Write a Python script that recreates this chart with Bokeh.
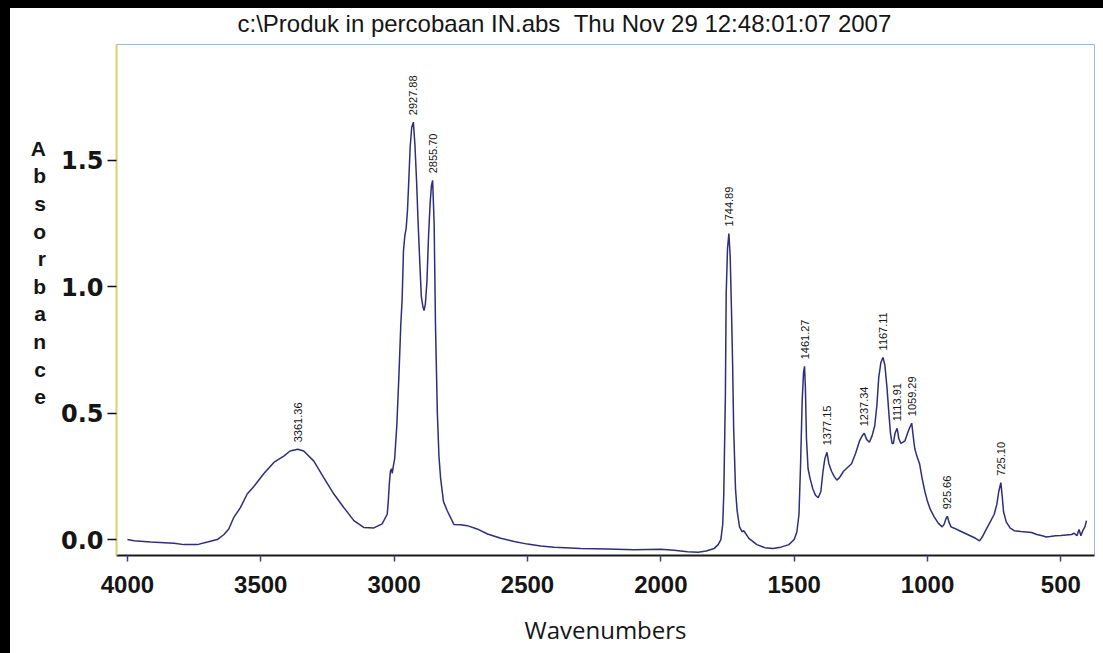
import numpy as np
from bokeh.plotting import figure
from bokeh.models import Range1d, FixedTicker, PrintfTickFormatter, ColumnDataSource
from bokeh.core.properties import value
from bokeh.embed import file_html
from bokeh.resources import INLINE

# ---------------- data ----------------
wavenumber = [
    4000, 3975, 3913, 3825, 3788, 3738, 3700, 3663, 3638, 3620, 3601, 3576, 3551, 3526,
    3489, 3451, 3414, 3390, 3361.36, 3339, 3301, 3264, 3226, 3189, 3151, 3114, 3076,
    3045, 3026, 3022, 3018, 3014, 3010, 3007, 3003, 2998, 2990, 2982, 2975, 2970, 2965,
    2960, 2955, 2950, 2945, 2940, 2934, 2927.88, 2922, 2916, 2910, 2904, 2898, 2892,
    2888, 2883, 2877, 2871, 2865, 2860, 2855.70, 2850, 2845, 2838, 2832, 2826, 2815,
    2801, 2776, 2751, 2726, 2689, 2650, 2600, 2550, 2500, 2450, 2400, 2300, 2200, 2100,
    2000, 1950, 1900, 1860, 1830, 1800, 1785, 1775, 1768, 1764, 1758, 1755, 1750,
    1744.89, 1740, 1735, 1731, 1727, 1720, 1714, 1705, 1695, 1689, 1670, 1640, 1610,
    1580, 1550, 1520, 1500, 1490, 1482, 1476, 1470, 1465, 1461.27, 1458, 1454, 1448,
    1440, 1430, 1420, 1410, 1400, 1392, 1385, 1377.15, 1370, 1360, 1350, 1340, 1330,
    1315, 1300, 1285, 1270, 1255, 1245, 1237.34, 1228, 1218, 1208, 1198, 1190, 1183,
    1175, 1167.11, 1160, 1152, 1145, 1139, 1133, 1128, 1122, 1113.91, 1108, 1100, 1092,
    1085, 1075, 1068, 1059.29, 1055, 1048, 1040, 1030, 1020, 1010, 1000, 990, 975, 960,
    945, 938, 930, 925.66, 920, 912, 900, 880, 860, 840, 820, 805, 795, 780, 765, 750,
    740, 733, 725.10, 720, 715, 705, 690, 675, 650, 630, 610, 590, 570, 555, 540, 520,
    500, 480, 460, 450, 440, 432, 425, 418, 410, 404,
]
absorbance = [
    0.000, -0.005, -0.010, -0.015, -0.020, -0.020, -0.010, 0.000, 0.020, 0.042, 0.088,
    0.127, 0.180, 0.210, 0.260, 0.305, 0.330, 0.350, 0.357, 0.350, 0.310, 0.245, 0.180,
    0.127, 0.075, 0.048, 0.046, 0.062, 0.100, 0.150, 0.220, 0.270, 0.280, 0.262, 0.290,
    0.320, 0.450, 0.650, 0.850, 0.950, 1.140, 1.200, 1.230, 1.300, 1.420, 1.550, 1.630,
    1.650, 1.560, 1.420, 1.250, 1.100, 0.960, 0.920, 0.905, 0.930, 1.020, 1.200, 1.330,
    1.400, 1.420, 1.250, 0.850, 0.500, 0.330, 0.245, 0.150, 0.114, 0.060, 0.059, 0.055,
    0.042, 0.022, 0.005, -0.008, -0.018, -0.025, -0.030, -0.035, -0.037, -0.040, -0.038,
    -0.042, -0.048, -0.050, -0.045, -0.035, -0.020, 0.000, 0.060, 0.180, 0.570, 0.970,
    1.150, 1.210, 1.120, 0.900, 0.700, 0.440, 0.200, 0.114, 0.050, 0.030, 0.035, 0.005,
    -0.020, -0.032, -0.035, -0.030, -0.020, 0.000, 0.030, 0.100, 0.300, 0.550, 0.660,
    0.685, 0.600, 0.400, 0.280, 0.240, 0.200, 0.175, 0.165, 0.190, 0.270, 0.320, 0.345,
    0.300, 0.270, 0.250, 0.235, 0.245, 0.270, 0.285, 0.300, 0.340, 0.390, 0.410, 0.420,
    0.395, 0.385, 0.410, 0.450, 0.530, 0.640, 0.700, 0.720, 0.690, 0.600, 0.500, 0.420,
    0.380, 0.380, 0.420, 0.440, 0.400, 0.380, 0.385, 0.390, 0.420, 0.440, 0.460, 0.420,
    0.360, 0.330, 0.300, 0.240, 0.190, 0.150, 0.120, 0.090, 0.065, 0.050, 0.060, 0.085,
    0.092, 0.070, 0.050, 0.045, 0.035, 0.025, 0.015, 0.005, -0.005, 0.010, 0.040, 0.070,
    0.100, 0.140, 0.190, 0.225, 0.170, 0.110, 0.070, 0.045, 0.035, 0.032, 0.030, 0.028,
    0.020, 0.015, 0.010, 0.012, 0.015, 0.016, 0.018, 0.020, 0.025, 0.015, 0.040, 0.015,
    0.035, 0.050, 0.075,
]
peak_wavenumbers = [3361.36, 2927.88, 2855.70, 1744.89, 1461.27, 1377.15, 1237.34,
                    1167.11, 1113.91, 1059.29, 925.66, 725.10]
x_ticks = [4000, 3500, 3000, 2500, 2000, 1500, 1000, 500]
y_ticks = [0.0, 0.5, 1.0, 1.5]
title_text = "c:\\Produk in percobaan IN.abs\u00a0\u00a0Thu Nov 29 12:48:01:07 2007"
x_label = "Wavenumbers"
y_label = "Absorbance"

# ---------------- derived ----------------
wn = np.array(wavenumber, dtype=float)
ab = np.array(absorbance, dtype=float)
order = np.argsort(wn)
peak_abs = np.interp(peak_wavenumbers, wn[order], ab[order])
peak_text = ["%.2f" % w for w in peak_wavenumbers]

# black scan border along the top and left edges, painted behind a transparent border area
page_bg = ("linear-gradient(to bottom, #000 0px, #000 8px, rgba(0,0,0,0) 8px), "
           "linear-gradient(to right, #000 0px, #000 10px, #fff 10px)")

p = figure(width=1103, height=653,
           x_range=Range1d(4041, 374), y_range=Range1d(-0.063, 1.957),
           output_backend="svg", toolbar_location=None,
           min_border_left=116, min_border_right=9, min_border_top=42, min_border_bottom=98,
           title=title_text, margin=0, styles={"background": page_bg})
p.background_fill_color = "white"
p.border_fill_alpha = 0
p.outline_line_color = "#9fb9d6"
p.outline_line_width = 1
p.xgrid.visible = False
p.ygrid.visible = False

p.title.align = "left"
p.title.offset = 121
p.title.standoff = 15
p.title.text_font = "Liberation Sans"
p.title.text_font_size = "24px"
p.title.text_font_style = "normal"
p.title.text_color = "#151515"

# x axis
xa = p.xaxis[0]
xa.ticker = FixedTicker(ticks=x_ticks)
xa.axis_label = x_label
xa.axis_label_text_font = "Open Sans"
xa.axis_label_text_font_size = "24px"
xa.axis_label_text_font_style = "normal"
xa.axis_label_text_color = "#151515"
xa.axis_label_standoff = 17
xa.major_label_text_font = "Liberation Sans"
xa.major_label_text_font_size = "24px"
xa.major_label_text_font_style = "bold"
xa.major_label_text_color = "#151515"
xa.major_label_standoff = 14
xa.axis_line_color = "#1a1a1a"
xa.axis_line_width = 2
xa.major_tick_in = 0
xa.major_tick_out = 6
xa.major_tick_line_color = "#3a3a90"
xa.major_tick_line_width = 1.5
xa.minor_tick_line_color = None

# y axis
ya = p.yaxis[0]
ya.ticker = FixedTicker(ticks=y_ticks)
ya.formatter = PrintfTickFormatter(format="%.1f")
ya.axis_label = "\n".join(list(y_label)) + "\n\u00a0\n\u00a0"
ya.axis_label_orientation = "horizontal"
ya.axis_label_text_font = "Liberation Sans"
ya.axis_label_text_font_size = "21px"
ya.axis_label_text_font_style = "bold"
ya.axis_label_text_color = "#151515"
ya.axis_label_standoff = 12
ya.major_label_text_font = "DejaVu Sans"
ya.major_label_text_font_size = "24px"
ya.major_label_text_font_style = "bold"
ya.major_label_text_color = "#151515"
ya.major_label_standoff = 4
ya.axis_line_color = "#dccf6e"
ya.axis_line_width = 2
ya.major_tick_in = 0
ya.major_tick_out = 9
ya.major_tick_line_color = "#111111"
ya.major_tick_line_width = 1.5
ya.minor_tick_line_color = None

# spectrum
p.line(wn, ab, line_color="#2f2e7a", line_width=1.5)

# peak labels
src = ColumnDataSource(dict(x=peak_wavenumbers, y=peak_abs, t=peak_text))
p.text(x="x", y="y", text="t", source=src, angle=np.pi / 2,
       text_font=value("Liberation Sans"), text_font_size="11px",
       text_align="left", text_baseline="middle", y_offset=-7,
       text_color="#151515")

open("out.html", "w").write(file_html(p, INLINE))
